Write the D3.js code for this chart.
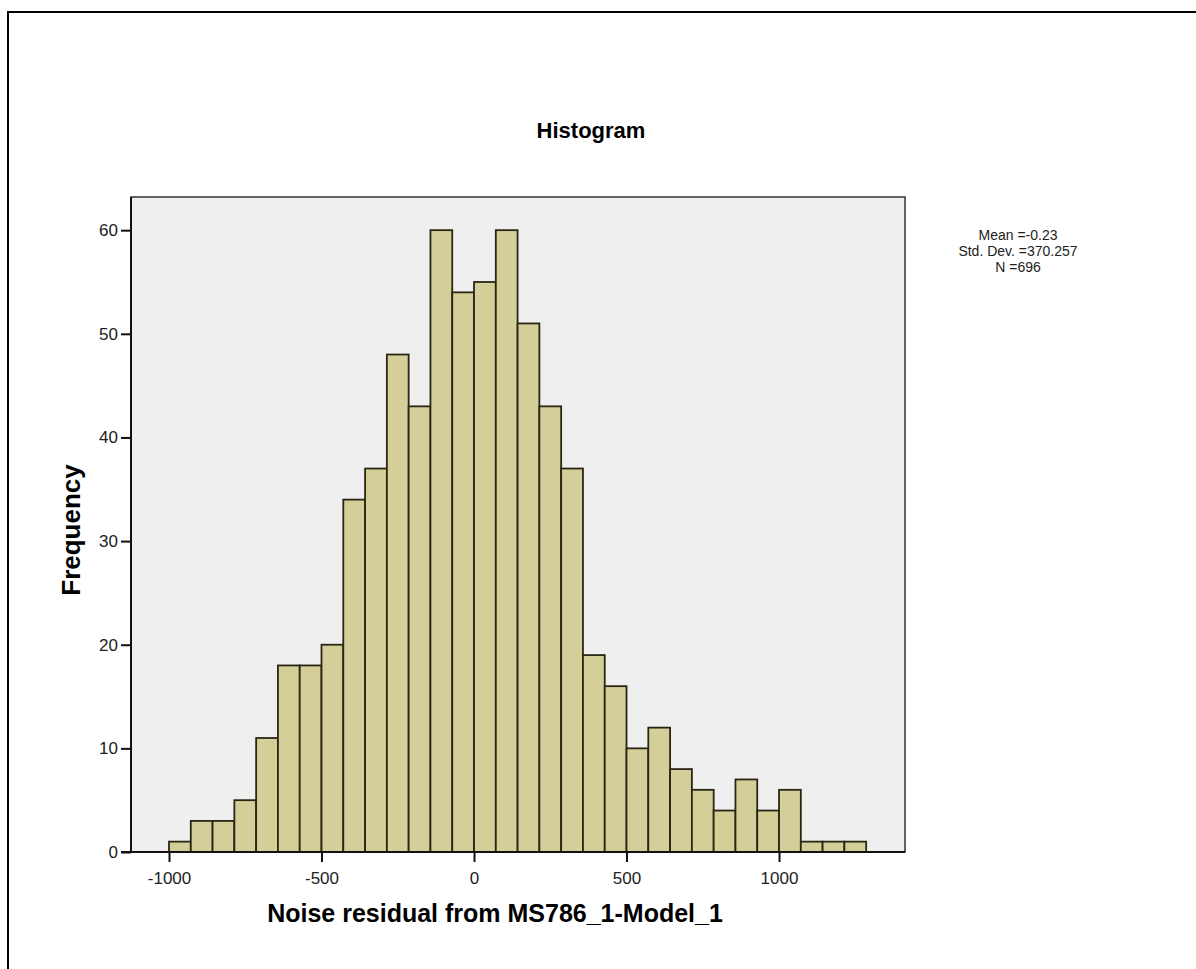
<!DOCTYPE html>
<html><head><meta charset="utf-8">
<script src="https://cdn.jsdelivr.net/npm/d3@7"></script>
<style>html,body{margin:0;padding:0;background:#fff;} svg{display:block;}</style>
</head><body>
<script>
// Data
const binStart = -1000;
const binWidth = 2000 / 28;
const frequencies = [1,3,3,5,11,18,18,20,34,37,48,43,60,54,55,60,51,43,37,19,16,10,12,8,6,4,7,4,6,1,1,1];
const xTicks = [-1000, -500, 0, 500, 1000];
const yTicks = [0, 10, 20, 30, 40, 50, 60];
const statLines = ["Mean =-0.23", "Std. Dev. =370.257", "N =696"];
const titleText = "Histogram";
const xLabel = "Noise residual from MS786_1-Model_1";
const yLabel = "Frequency";

const W = 1196, H = 969;
const plot = {left: 131, right: 905, top: 197, bottom: 852};

const svg = d3.select("body").append("svg").attr("width", W).attr("height", H);
svg.append("rect").attr("width", W).attr("height", H).attr("fill", "#fff");
// outer frame (extends beyond right/bottom)
svg.append("rect").attr("x", 8).attr("y", 12).attr("width", 1300).attr("height", 1100)
  .attr("fill", "none").attr("stroke", "#000").attr("stroke-width", 2);

const x = d3.scaleLinear().domain([-1124.6, 1413]).range([plot.left, plot.right]);
const y = d3.scaleLinear().domain([0, 63.2]).range([plot.bottom, plot.top]);

// plot background
svg.append("rect").attr("x", plot.left).attr("y", plot.top)
  .attr("width", plot.right - plot.left).attr("height", plot.bottom - plot.top)
  .attr("fill", "#efefef").attr("stroke", "#333").attr("stroke-width", 1.5);

const bins = frequencies.map((f, i) => ({x0: binStart + i * binWidth, x1: binStart + (i + 1) * binWidth, f}));
svg.append("g").selectAll("rect").data(bins).join("rect")
  .attr("x", d => x(d.x0)).attr("width", d => x(d.x1) - x(d.x0))
  .attr("y", d => y(d.f)).attr("height", d => y(0) - y(d.f))
  .attr("fill", "#d4cf98").attr("stroke", "#2a2614").attr("stroke-width", 1.8);

const font = "Arial, 'Liberation Sans', sans-serif";
const fmt = d => String(d);

// y axis
const yAxis = d3.axisLeft(y).tickValues(yTicks).tickSize(10).tickPadding(3).tickFormat(fmt);
const gy = svg.append("g").attr("transform", `translate(${plot.left},0)`).call(yAxis);
gy.select(".domain").remove();
gy.append("line").attr("x1", 0).attr("x2", 0).attr("y1", plot.top).attr("y2", plot.bottom)
  .attr("stroke", "#111").attr("stroke-width", 2);
gy.selectAll(".tick line").attr("stroke", "#111").attr("stroke-width", 2);
gy.selectAll(".tick text").attr("fill", "#222").style("font-family", font).style("font-size", "17px");

// x axis
const xAxis = d3.axisBottom(x).tickValues(xTicks).tickSize(10).tickPadding(10).tickFormat(fmt);
const gx = svg.append("g").attr("transform", `translate(0,${plot.bottom})`).call(xAxis);
gx.select(".domain").remove();
gx.append("line").attr("x1", plot.left - 10).attr("x2", plot.right).attr("y1", 0).attr("y2", 0)
  .attr("stroke", "#111").attr("stroke-width", 2);
gx.selectAll(".tick line").attr("stroke", "#111").attr("stroke-width", 2);
gx.selectAll(".tick text").attr("fill", "#222").style("font-family", font).style("font-size", "17px");

// title
svg.append("text").attr("x", 591).attr("y", 138).attr("text-anchor", "middle")
  .style("font-family", font).style("font-weight", "bold").style("font-size", "22px").text(titleText);

// x label
svg.append("text").attr("x", 495).attr("y", 922).attr("text-anchor", "middle")
  .style("font-family", font).style("font-weight", "bold").style("font-size", "25px").text(xLabel);

// y label
svg.append("text").attr("transform", "translate(80,530) rotate(-90)").attr("text-anchor", "middle")
  .style("font-family", font).style("font-weight", "bold").style("font-size", "26px").text(yLabel);

// stats
svg.append("g").selectAll("text").data(statLines).join("text")
  .attr("x", 1018).attr("y", (d, i) => 240 + i * 16).attr("text-anchor", "middle")
  .style("font-family", font).style("font-size", "14px").attr("fill", "#222").text(d => d);
</script>
</body></html>
